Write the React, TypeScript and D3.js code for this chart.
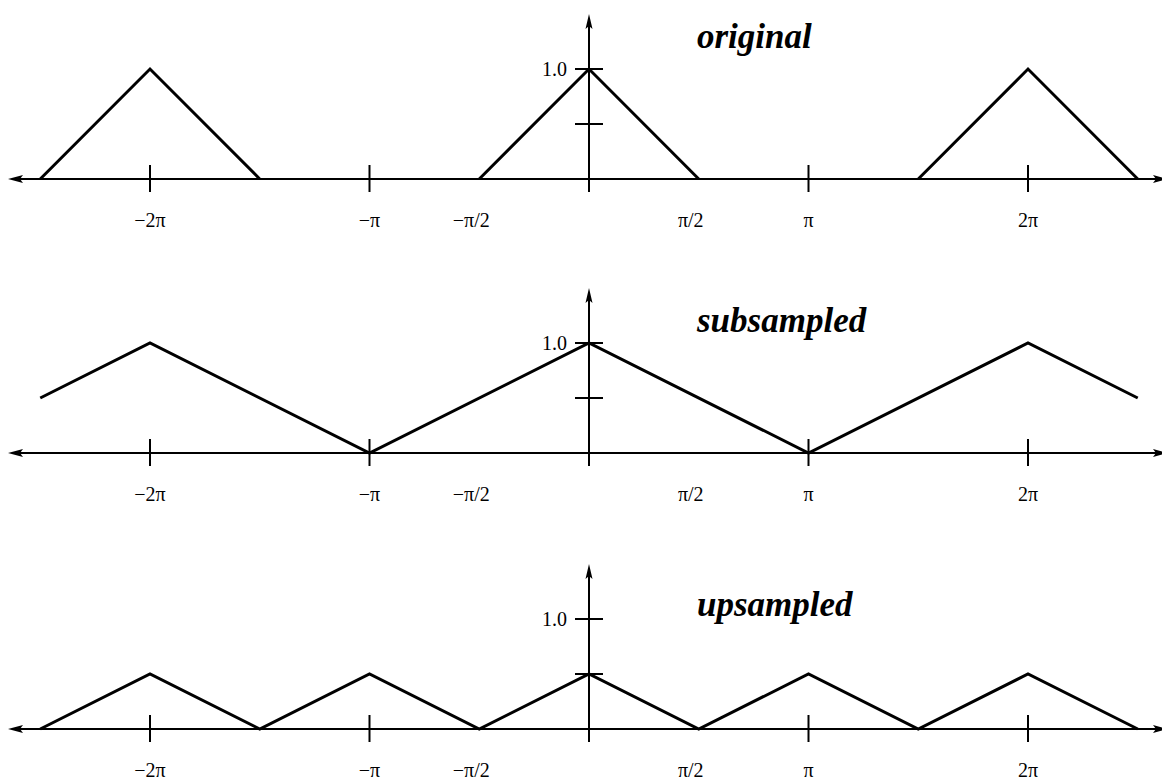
import React from "react";
import * as d3 from "d3";

// Spectra in units of π along the frequency axis.
const originalX = [-2.5, -2, -1.5, -0.5, 0, 0.5, 1.5, 2, 2.5];
const originalY = [0, 1, 0, 0, 1, 0, 0, 1, 0];

const subsampledX = [-2.5, -2, -1, 0, 1, 2, 2.5];
const subsampledY = [0.5, 1, 0, 1, 0, 1, 0.5];

const upsampledX = [-2.5, -2, -1.5, -1, -0.5, 0, 0.5, 1, 1.5, 2, 2.5];
const upsampledY = [0, 0.5, 0, 0.5, 0, 0.5, 0, 0.5, 0, 0.5, 0];

const xTickMarks = [-2, -1, 1, 2];
const xTickValues = [-2, -1, -0.5, 0.5, 1, 2];
const xTickLabels = ["\u22122\u03c0", "\u2212\u03c0", "\u2212\u03c0/2", "\u03c0/2", "\u03c0", "2\u03c0"];
const yTickValues = [0.5, 1.0];
const yTickLabels = ["", "1.0"];

const titles = ["original", "subsampled", "upsampled"];

const W = 1162;
const H = 781;
const FONT = "'Liberation Serif', 'Times New Roman', serif";

const x = d3.scaleLinear().domain([0, 1]).range([589, 589 + 219.5]);

type PanelProps = {
  xs: number[];
  ys: number[];
  base: number;
  title: string;
  titleY: number;
};

function Panel({ xs, ys, base, title, titleY }: PanelProps) {
  const y = d3.scaleLinear().domain([0, 1]).range([base, base - 110]);
  const line = d3
    .line<[number, number]>()
    .x((d) => x(d[0]))
    .y((d) => y(d[1]));

  // split into runs, skipping flat stretches that lie on the axis
  const segs: [number, number][][] = [];
  let cur: [number, number][] = [];
  for (let i = 0; i < xs.length - 1; i++) {
    const flat = ys[i] === 0 && ys[i + 1] === 0;
    if (flat) {
      if (cur.length) segs.push(cur);
      cur = [];
      continue;
    }
    if (!cur.length) cur.push([xs[i], ys[i]]);
    cur.push([xs[i + 1], ys[i + 1]]);
  }
  if (cur.length) segs.push(cur);

  const x0 = x(0);
  const yTop = y(1.5);
  const axisL = 8;
  const axisR = 1168;

  return (
    <g>
      {/* horizontal axis with arrowheads */}
      <line x1={axisL + 10} x2={axisR - 10} y1={base} y2={base} stroke="#000" strokeWidth={2} />
      <path d={`M${axisL},${base} L${axisL + 15},${base - 4} L${axisL + 12},${base} L${axisL + 15},${base + 4} Z`} fill="#000" />
      <path d={`M${axisR},${base} L${axisR - 15},${base - 4} L${axisR - 12},${base} L${axisR - 15},${base + 4} Z`} fill="#000" />

      {/* vertical axis */}
      <line x1={x0} x2={x0} y1={base + 13} y2={yTop + 8} stroke="#000" strokeWidth={2} />
      <path d={`M${x0},${yTop} L${x0 - 3.5},${yTop + 15} L${x0},${yTop + 12} L${x0 + 3.5},${yTop + 15} Z`} fill="#000" />

      {xTickMarks.map((v) => (
        <line key={v} x1={x(v)} x2={x(v)} y1={base - 14} y2={base + 13} stroke="#000" strokeWidth={2} />
      ))}
      {xTickValues.map((v, i) => (
        <text
          key={v}
          x={x(v) + (Math.abs(v) === 0.5 ? -8 : 0)}
          y={base + 48}
          textAnchor="middle"
          fontFamily={FONT}
          fontSize={20}
        >
          {xTickLabels[i]}
        </text>
      ))}

      {yTickValues.map((v, i) => (
        <g key={v}>
          <line x1={x0 - 14} x2={x0 + 14} y1={y(v)} y2={y(v)} stroke="#000" strokeWidth={2} />
          {yTickLabels[i] && (
            <text x={x0 - 22} y={y(v) + 7} textAnchor="end" fontFamily={FONT} fontSize={20}>
              {yTickLabels[i]}
            </text>
          )}
        </g>
      ))}

      {segs.map((s, i) => (
        <path key={i} d={line(s) ?? ""} fill="none" stroke="#000" strokeWidth={3} strokeLinejoin="miter" />
      ))}

      <text
        x={697}
        y={titleY}
        fontFamily={FONT}
        fontSize={35}
        fontWeight="bold"
        fontStyle="italic"
      >
        {title}
      </text>
    </g>
  );
}

export default function App() {
  return (
    <svg
      width={W}
      height={H}
      style={{ position: "absolute", left: 0, top: 0, background: "#fff" }}
    >
      <rect width={W} height={H} fill="#fff" />
      <Panel xs={originalX} ys={originalY} base={179} title={titles[0]} titleY={48} />
      <Panel xs={subsampledX} ys={subsampledY} base={453} title={titles[1]} titleY={332} />
      <Panel xs={upsampledX} ys={upsampledY} base={729} title={titles[2]} titleY={616} />
    </svg>
  );
}
